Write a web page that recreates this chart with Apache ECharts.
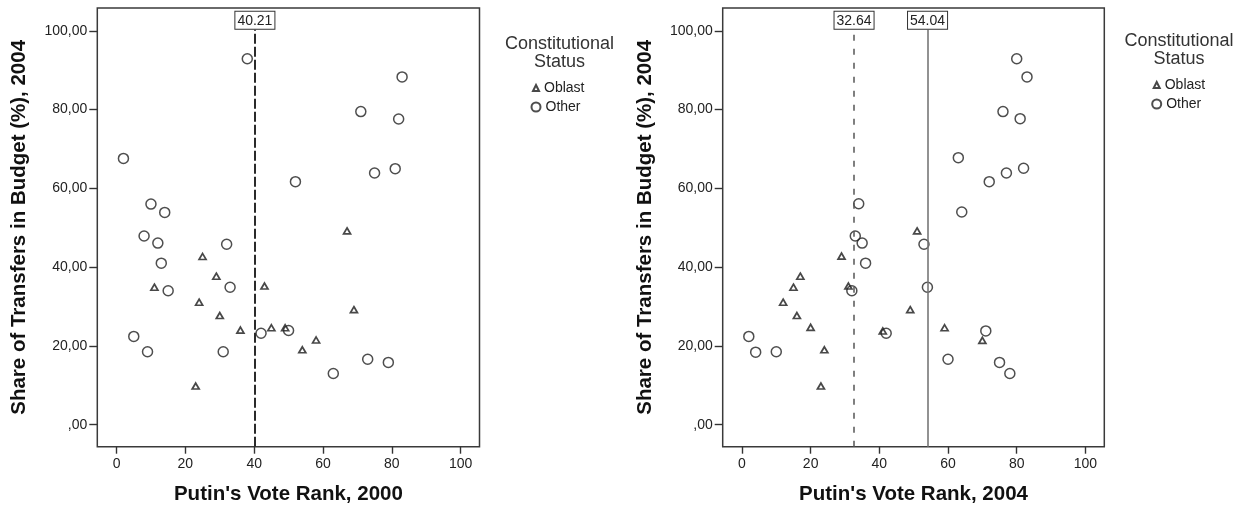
<!DOCTYPE html>
<html>
<head>
<meta charset="utf-8">
<title>Transfers share vs. Putin's vote rank</title>
<script src="https://cdn.jsdelivr.net/npm/echarts@6/dist/echarts.min.js"></script>
<style>
  html, body { margin: 0; padding: 0; background: #fff; }
  #chart { width: 1245px; height: 511px; }
</style>
</head>
<body>
<div id="chart"></div>
<script>
// Share of transfers in regional budgets (2004) against Putin's vote rank.
// Left panel: rank in 2000; right panel: rank in 2004.

const oblastRank2000  = [25, 67, 29, 11, 43, 24, 30, 36, 45, 49, 69, 58, 54, 23];
const oblastShare2000 = [42.7, 49.2, 37.7, 34.9, 35.2, 31.1, 27.7, 24.0, 24.6, 24.6, 29.2, 21.5, 19.0, 9.8];
const otherRank2000   = [2, 38, 52, 10, 14, 8, 12, 32, 83, 71, 82, 81, 75, 13, 15, 33, 42, 50, 5, 9, 31, 73, 79, 63];
const otherShare2000  = [67.6, 92.9, 61.7, 56.0, 53.9, 47.9, 46.1, 45.8, 88.3, 79.5, 77.6, 65.0, 63.9, 41.0, 34.0, 34.9, 23.2, 23.9, 22.4, 18.5, 18.5, 16.6, 15.8, 13.0];

const oblastRank2004  = [29, 51, 17, 15, 31, 12, 16, 49, 20, 41, 59, 70, 24, 23];
const oblastShare2004 = [42.8, 49.2, 37.7, 34.9, 35.2, 31.1, 27.7, 29.2, 24.7, 23.8, 24.6, 21.4, 19.0, 9.8];
const otherRank2004   = [80, 83, 76, 81, 63, 82, 77, 72, 34, 64, 33, 35, 53, 36, 54, 32, 42, 71, 2, 4, 10, 60, 75, 78];
const otherShare2004  = [92.9, 88.3, 79.5, 77.7, 67.8, 65.1, 63.9, 61.7, 56.1, 54.0, 47.9, 46.1, 45.8, 41.0, 34.9, 34.0, 23.2, 23.8, 22.4, 18.4, 18.5, 16.6, 15.8, 13.0];

// Reference lines (x positions)
const refLines2000 = [40.21];
const refLines2004 = [32.64, 54.04];

// Tick values and labels
const xTickValues = [0, 20, 40, 60, 80, 100];
const yTickValues = [0, 20, 40, 60, 80, 100];
const yTickLabels = [',00', '20,00', '40,00', '60,00', '80,00', '100,00'];

const groupNames = ['Oblast', 'Other'];
const legendTitle = 'Constitutional\nStatus';
const xTitles = ["Putin's Vote Rank, 2000", "Putin's Vote Rank, 2004"];
const yTitle = 'Share of Transfers in Budget (%), 2004';

const FONT = '"Liberation Sans", Arial, sans-serif';
const INK = '#222';
const X_MIN = -5.6, X_MAX = 105.5;
const Y_MIN = -5.6, Y_MAX = 105.8;

function zip(xs, ys) { return xs.map((x, i) => [x, ys[i]]); }

function xAxis(idx) {
  return {
    type: 'value', gridIndex: idx, min: X_MIN, max: X_MAX,
    name: xTitles[idx], nameLocation: 'middle', nameGap: 37,
    nameTextStyle: { fontFamily: FONT, fontSize: 20.5, fontWeight: 'bold', color: '#111' },
    axisLine: { show: false, onZero: false },
    splitLine: { show: false },
    axisTick: { show: true, inside: false, length: 7, customValues: xTickValues, lineStyle: { color: '#333', width: 1.4 } },
    axisLabel: { customValues: xTickValues, margin: 10, fontFamily: FONT, fontSize: 14, color: INK }
  };
}

function yAxis(idx) {
  return {
    type: 'value', gridIndex: idx, min: Y_MIN, max: Y_MAX,
    name: yTitle, nameLocation: 'middle', nameGap: 67,
    nameTextStyle: { fontFamily: FONT, fontSize: 20.5, fontWeight: 'bold', color: '#111' },
    axisLine: { show: false, onZero: false },
    splitLine: { show: false },
    axisTick: { show: true, inside: false, length: 8, customValues: yTickValues, lineStyle: { color: '#333', width: 1.4 } },
    axisLabel: {
      customValues: yTickValues, margin: 10, fontFamily: FONT, fontSize: 14, color: INK,
      formatter: v => yTickLabels[yTickValues.indexOf(v)]
    }
  };
}

const oblastStyle = { color: 'transparent', borderColor: '#1a1a1a', borderWidth: 1.7 };
const otherStyle  = { color: 'transparent', borderColor: '#222', borderWidth: 1.5 };

const dashedHeavy = { color: '#2a2a2a', width: 2, type: [10, 3] };
const dashedLight = { color: '#555', width: 1.5, type: [6, 8] };
const solidGray   = { color: '#777', width: 1.6, type: 'solid' };

// Vertical reference lines with a boxed value label at the top
function makeMarkLine(values, styles) {
  return {
    silent: true, symbol: 'none', animation: false,
    data: values.map((v, i) => {
      const text = v.toFixed(2);
      return [
        { coord: [v, Y_MIN], lineStyle: styles[i], label: { formatter: text } },
        { coord: [v, 100.3], label: { formatter: text } }
      ];
    }),
    label: {
      show: true, position: 'end', distance: 1,
      fontFamily: FONT, fontSize: 14, color: INK,
      backgroundColor: '#fff', borderColor: '#333', borderWidth: 1,
      padding: [2, 2, 1, 2]
    }
  };
}

const series = [
  {
    name: groupNames[0], type: 'scatter', xAxisIndex: 0, yAxisIndex: 0,
    symbol: 'triangle', symbolSize: [7, 6], itemStyle: oblastStyle,
    data: zip(oblastRank2000, oblastShare2000),
    markLine: makeMarkLine(refLines2000, [dashedHeavy])
  },
  {
    name: groupNames[1], type: 'scatter', xAxisIndex: 0, yAxisIndex: 0,
    symbol: 'circle', symbolSize: 10, itemStyle: otherStyle,
    data: zip(otherRank2000, otherShare2000)
  },
  {
    name: groupNames[0], type: 'scatter', xAxisIndex: 1, yAxisIndex: 1,
    symbol: 'triangle', symbolSize: [7, 6], itemStyle: oblastStyle,
    data: zip(oblastRank2004, oblastShare2004),
    markLine: makeMarkLine(refLines2004, [dashedLight, solidGray])
  },
  {
    name: groupNames[1], type: 'scatter', xAxisIndex: 1, yAxisIndex: 1,
    symbol: 'circle', symbolSize: 10, itemStyle: otherStyle,
    data: zip(otherRank2004, otherShare2004)
  }
];

function legendItem(name, left, top, size) {
  return {
    data: [name], orient: 'vertical', left: left, top: top, padding: 0,
    itemWidth: size, itemHeight: size, selectedMode: false,
    textStyle: { fontFamily: FONT, fontSize: 14, color: INK }
  };
}

function legendHeading(x, y) {
  return {
    type: 'text', x: x, y: y,
    style: { text: legendTitle, align: 'center', verticalAlign: 'top', font: '18px ' + FONT, fill: '#333', lineHeight: 18 }
  };
}

const chart = echarts.init(document.getElementById('chart'), null, { renderer: 'canvas' });
chart.setOption({
  animation: false,
  backgroundColor: '#fff',
  grid: [
    { left: 97.3, top: 8, width: 382.2, height: 438.7, show: true, borderColor: '#3a3a3a', borderWidth: 1.5, backgroundColor: 'transparent' },
    { left: 722.7, top: 8, width: 381.6, height: 438.7, show: true, borderColor: '#3a3a3a', borderWidth: 1.5, backgroundColor: 'transparent' }
  ],
  xAxis: [xAxis(0), xAxis(1)],
  yAxis: [yAxis(0), yAxis(1)],
  legend: [
    legendItem(groupNames[0], 532, 81, 6),
    legendItem(groupNames[1], 530.5, 100, 9),
    legendItem(groupNames[0], 1152.7, 78, 6),
    legendItem(groupNames[1], 1151.2, 97, 9)
  ],
  graphic: [legendHeading(559.5, 35), legendHeading(1179, 32)],
  series: series
});
</script>
</body>
</html>
